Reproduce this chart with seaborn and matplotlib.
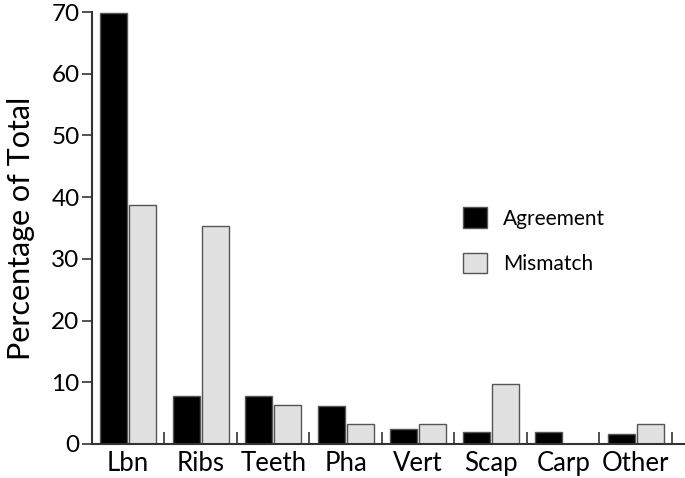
import numpy as np
import pandas as pd
import matplotlib
matplotlib.use("Agg")
import matplotlib.pyplot as plt
import seaborn as sns

# values
bones = ["Lbn", "Ribs", "Teeth", "Pha", "Vert", "Scap", "Carp", "Other"]
agreement = [69.8, 7.8, 7.8, 6.1, 2.4, 2.0, 2.0, 1.6]
mismatch = [38.7, 35.4, 6.4, 3.2, 3.2, 9.7, 0.0, 3.2]
groups = ["Agreement", "Mismatch"]

df = pd.DataFrame({
    "Bone": bones * 2,
    "Group": [groups[0]] * len(bones) + [groups[1]] * len(bones),
    "Pct": agreement + mismatch,
})

sns.set_style("ticks")
plt.rcParams["font.family"] = ["Lato", "DejaVu Sans"]
plt.rcParams["text.color"] = "black"
plt.rcParams["axes.labelcolor"] = "black"
plt.rcParams["xtick.labelcolor"] = "black"
plt.rcParams["ytick.labelcolor"] = "black"

fig = plt.figure(figsize=(6.85, 4.78), dpi=100)
ax = fig.add_axes([92 / 685, 34 / 478, 593 / 685, 432 / 478])

sns.barplot(data=df, x="Bone", y="Pct", hue="Group", order=bones, hue_order=groups,
            palette=["#000000", "#e1e1e1"], width=0.8, gap=0.06,
            edgecolor="#555555", linewidth=1.0, ax=ax)

ax.set_ylim(0, 70)
ax.set_xlim(-0.5, 7.68)
ax.set_yticks(range(0, 71, 10))
ax.set_xlabel("")
ax.set_ylabel("Percentage of Total", fontsize=22, labelpad=12)

ax.tick_params(axis="y", direction="out", length=7, width=1.2, color="#333333", labelsize=17.5, pad=2)
ax.tick_params(axis="x", which="major", length=0, labelsize=18.5, pad=5)
ax.set_xticks(np.arange(0.5, 8, 1), minor=True)
ax.tick_params(axis="x", which="minor", direction="in", length=9, width=1.2, color="#333333")

for side in ["top", "right"]:
    ax.spines[side].set_visible(False)
for side in ["left", "bottom"]:
    ax.spines[side].set_linewidth(1.5)
    ax.spines[side].set_color("#333333")

leg = ax.legend(loc="upper left", bbox_to_anchor=(0.626, 0.548), frameon=False,
                fontsize=15, handlelength=1.15, handleheight=1.15,
                handletextpad=0.75, labelspacing=1.15, borderpad=0, borderaxespad=0)

fig.savefig("out.png", dpi=100)
